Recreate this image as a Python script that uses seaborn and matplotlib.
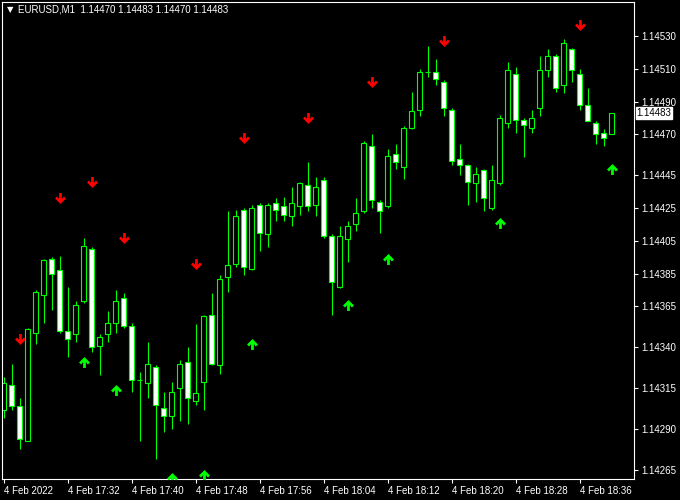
import matplotlib
matplotlib.use("Agg")
import matplotlib.pyplot as plt
import matplotlib.transforms as mtransforms
from matplotlib.path import Path
import seaborn as sns
import pandas as pd

# EURUSD M1, 4 Feb 2022 17:24 .. 18:40
opens = [1.14302, 1.14317, 1.14304, 1.14283, 1.14349, 1.14372, 1.14394, 1.14387, 1.14350, 1.14348,
         1.14368, 1.14400, 1.14341, 1.14348, 1.14355, 1.14370, 1.14353, 1.14320, 1.14318, 1.14328,
         1.14303, 1.14298, 1.14315, 1.14331, 1.14307, 1.14319, 1.14360, 1.14329, 1.14383, 1.14391,
         1.14424, 1.14388, 1.14427, 1.14409, 1.14428, 1.14426, 1.14420, 1.14426, 1.14439, 1.14427,
         1.14442, 1.14408, 1.14377, 1.14406, 1.14415, 1.14423, 1.14463, 1.14429, 1.14426, 1.14458,
         1.14450, 1.14474, 1.14485, 1.14508, 1.14508, 1.14502, 1.14485, 1.14455, 1.14451, 1.14440,
         1.14448, 1.14425, 1.14440, 1.14477, 1.14507, 1.14479, 1.14474, 1.14486, 1.14509, 1.14518,
         1.14500, 1.14522, 1.14507, 1.14488, 1.14477, 1.14471, 1.14470]
highs = [1.14322, 1.14330, 1.14309, 1.14352, 1.14375, 1.14394, 1.14395, 1.14396, 1.14377, 1.14368,
         1.14407, 1.14401, 1.14348, 1.14362, 1.14375, 1.14373, 1.14355, 1.14325, 1.14343, 1.14329,
         1.14313, 1.14319, 1.14332, 1.14340, 1.14354, 1.14360, 1.14373, 1.14384, 1.14423, 1.14424,
         1.14425, 1.14427, 1.14428, 1.14428, 1.14431, 1.14432, 1.14438, 1.14441, 1.14453, 1.14444,
         1.14444, 1.14409, 1.14414, 1.14417, 1.14431, 1.14466, 1.14470, 1.14430, 1.14461, 1.14464,
         1.14475, 1.14496, 1.14510, 1.14524, 1.14516, 1.14503, 1.14486, 1.14464, 1.14452, 1.14450,
         1.14449, 1.14451, 1.14482, 1.14514, 1.14511, 1.14480, 1.14485, 1.14518, 1.14522, 1.14519,
         1.14528, 1.14523, 1.14510, 1.14498, 1.14478, 1.14473, 1.14483]
lows = [1.14297, 1.14302, 1.14278, 1.14283, 1.14342, 1.14355, 1.14363, 1.14349, 1.14334, 1.14343,
        1.14367, 1.14337, 1.14323, 1.14343, 1.14349, 1.14352, 1.14313, 1.14283, 1.14309, 1.14272,
        1.14288, 1.14290, 1.14295, 1.14293, 1.14305, 1.14302, 1.14329, 1.14324, 1.14374, 1.14389,
        1.14384, 1.14387, 1.14399, 1.14401, 1.14417, 1.14417, 1.14414, 1.14421, 1.14423, 1.14420,
        1.14407, 1.14360, 1.14376, 1.14392, 1.14411, 1.14422, 1.14425, 1.14410, 1.14425, 1.14449,
        1.14443, 1.14473, 1.14481, 1.14505, 1.14500, 1.14481, 1.14451, 1.14445, 1.14427, 1.14429,
        1.14423, 1.14424, 1.14439, 1.14474, 1.14471, 1.14456, 1.14471, 1.14481, 1.14505, 1.14496,
        1.14495, 1.14502, 1.14485, 1.14478, 1.14464, 1.14463, 1.14470]
closes = [1.14318, 1.14304, 1.14284, 1.14351, 1.14374, 1.14393, 1.14385, 1.14350, 1.14345, 1.14366,
          1.14402, 1.14340, 1.14346, 1.14355, 1.14368, 1.14353, 1.14320, 1.14320, 1.14330, 1.14305,
          1.14298, 1.14313, 1.14330, 1.14309, 1.14312, 1.14359, 1.14330, 1.14382, 1.14390, 1.14420,
          1.14389, 1.14425, 1.14410, 1.14427, 1.14424, 1.14421, 1.14428, 1.14440, 1.14426, 1.14438,
          1.14408, 1.14380, 1.14408, 1.14414, 1.14422, 1.14465, 1.14430, 1.14423, 1.14457, 1.14453,
          1.14474, 1.14484, 1.14508, 1.14508, 1.14504, 1.14486, 1.14454, 1.14451, 1.14441, 1.14446,
          1.14431, 1.14442, 1.14480, 1.14509, 1.14479, 1.14476, 1.14480, 1.14509, 1.14518, 1.14498,
          1.14526, 1.14509, 1.14488, 1.14478, 1.14470, 1.14468, 1.14483]

# signal arrows (bar index, price level)
sell_bars = [2, 7, 11, 15, 24, 30, 38, 46, 55, 72]
sell_levels = [1.14345, 1.14431, 1.14441, 1.14407, 1.14391, 1.14468, 1.14480, 1.14502, 1.14527, 1.14537]
buy_bars = [10, 14, 21, 25, 31, 43, 48, 62, 76]
buy_levels = [1.14331, 1.14314, 1.14260, 1.14262, 1.14342, 1.14366, 1.14394, 1.14416, 1.14449]

time_ticks = [0, 8, 16, 24, 32, 40, 48, 56, 64, 72]
time_labels = ["4 Feb 2022", "4 Feb 17:32", "4 Feb 17:40", "4 Feb 17:48", "4 Feb 17:56",
               "4 Feb 18:04", "4 Feb 18:12", "4 Feb 18:20", "4 Feb 18:28", "4 Feb 18:36"]
price_ticks = [1.14530, 1.14510, 1.14490, 1.14470, 1.14445, 1.14425, 1.14405,
               1.14385, 1.14365, 1.14340, 1.14315, 1.14290, 1.14265]

df = pd.DataFrame({"open": opens, "high": highs, "low": lows, "close": closes})
df["bar"] = range(len(df))
sells = pd.DataFrame({"bar": sell_bars, "price": sell_levels})
buys = pd.DataFrame({"bar": buy_bars, "price": buy_levels})

sns.set_theme(style="ticks", rc={
    "axes.facecolor": "black",
    "figure.facecolor": "black",
    "axes.edgecolor": "white",
    "xtick.color": "white",
    "ytick.color": "white",
    "text.color": "white",
})
plt.rcParams["font.family"] = ["Liberation Sans", "DejaVu Sans"]

LIME = "#00FF00"

# arrow markers (wingdings style, bold chevron head)
down_verts = [(-0.2, 0.8), (0.2, 0.8), (0.2, -0.05), (0.5, 0.3), (0.8, 0.0),
              (0.0, -0.8), (-0.8, 0.0), (-0.5, 0.3), (-0.2, -0.05), (-0.2, 0.8)]
down_arrow = Path(down_verts, closed=True)
up_arrow = Path([(x, -y) for x, y in down_verts], closed=True)

fig = plt.figure(figsize=(6.8, 5.0), dpi=100)
ax = fig.add_axes([2 / 680, 21 / 500, 632 / 680, 477 / 500])

# wicks
ax.vlines(df["bar"], df["low"], df["high"], color=LIME, linewidth=0.8, zorder=1)

# bodies: bull hollow (black), bear filled white
bull = df["close"] >= df["open"]
body_bottom = df[["open", "close"]].min(axis=1)
body_height = (df["close"] - df["open"]).abs()
ax.bar(df["bar"], body_height, bottom=body_bottom, width=0.56,
       color=["black" if b else "white" for b in bull],
       edgecolor=LIME, linewidth=0.8, zorder=2)

sns.scatterplot(data=sells, x="bar", y="price", marker=down_arrow, s=62,
                color="#FF0000", linewidth=0, ax=ax, zorder=3, legend=False)
sns.scatterplot(data=buys, x="bar", y="price", marker=up_arrow, s=62,
                color="#00FF00", linewidth=0, ax=ax, zorder=3, legend=False)

ax.set_xlim(-0.19, 78.81)
ax.set_ylim(1.142596, 1.145508)

ax.set_xticks(time_ticks)
ax.set_xticklabels(time_labels, ha="left", fontsize=7)
ax.yaxis.tick_right()
ax.set_yticks(price_ticks)
ax.set_yticklabels([f"{p:.5f}" for p in price_ticks], fontsize=7)
ax.tick_params(axis="x", length=3, width=0.8, pad=2, colors="white")
ax.tick_params(axis="y", length=3, width=0.8, pad=2.5, colors="white")
for lbl in ax.get_yticklabels():
    lbl.set_horizontalalignment("left")
ax.set_xlabel("")
ax.set_ylabel("")
for sp in ax.spines.values():
    sp.set_visible(True)
    sp.set_color("white")
    sp.set_linewidth(0.8)

# current price label
trans = mtransforms.blended_transform_factory(ax.transAxes, ax.transData)
ax.text(1.004, closes[-1], f"{closes[-1]:.5f}", transform=trans, fontsize=7,
        color="black", va="center", ha="left", clip_on=False,
        bbox=dict(boxstyle="square,pad=0.1", fc="white", ec="white"))

# header
fig.text(7 / 680, 1 - 10 / 500, "\u25bc", fontsize=6, color="white",
         va="center", ha="left", family=["DejaVu Sans"])
fig.text(18 / 680, 1 - 10 / 500,
         "EURUSD,M1  1.14470 1.14483 1.14470 1.14483",
         fontsize=7, color="white", va="center", ha="left")

fig.savefig("out.png", dpi=100, facecolor="black")
